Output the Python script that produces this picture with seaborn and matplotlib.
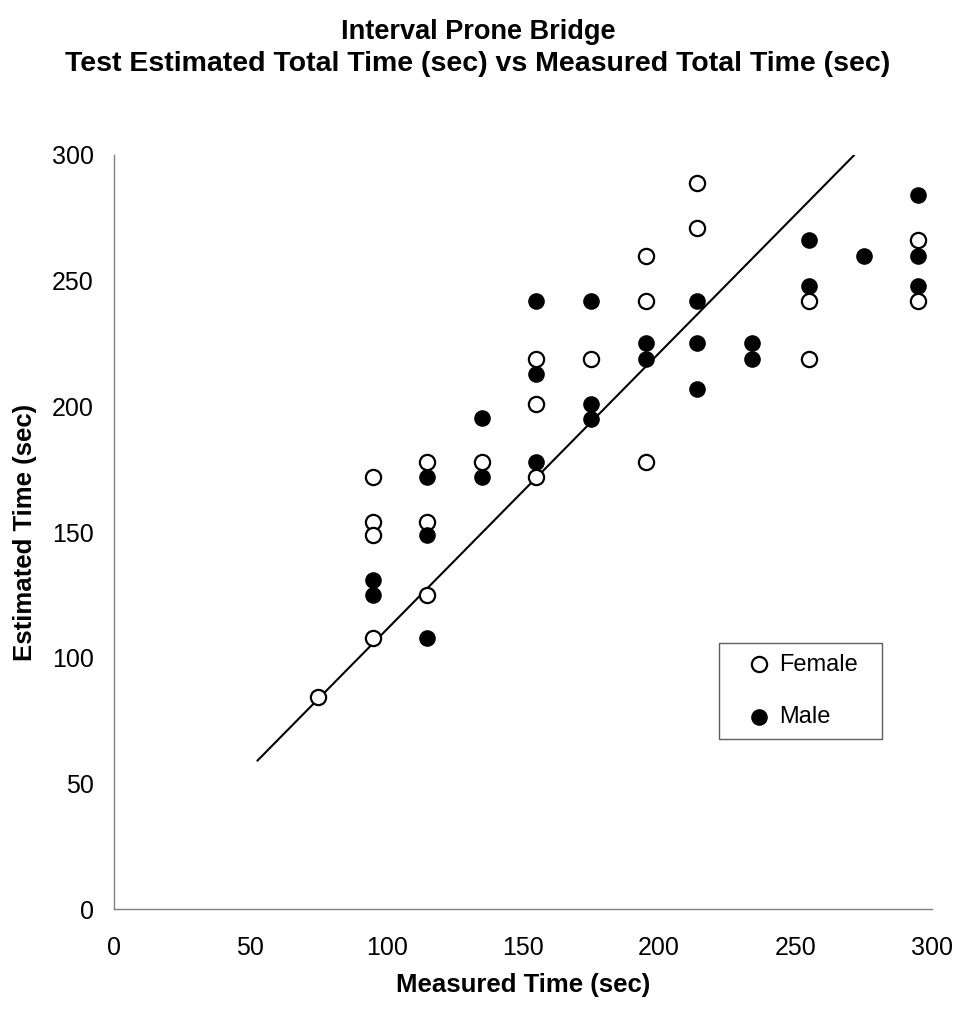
import matplotlib
matplotlib.use("Agg")
import matplotlib.pyplot as plt
import seaborn as sns
import pandas as pd

# ---- data ----
female_x = [75, 95, 95, 95, 95, 115, 115, 115, 135, 155, 155, 155, 175,
            195, 195, 195, 214, 214, 255, 255, 295, 295]
female_y = [84.5, 172, 154, 149, 108, 178, 154, 125, 178, 219, 201, 172, 219,
            260, 242, 178, 289, 271, 242, 219, 266, 242]

male_x = [95, 95, 115, 115, 115, 135, 135, 155, 155, 155, 175, 175, 175,
          195, 195, 214, 214, 214, 234, 234, 255, 255, 275, 295, 295, 295]
male_y = [131, 125, 172, 149, 108, 195.5, 172, 242, 213, 178, 242, 201, 195,
          225, 219, 242, 225, 207, 225, 219, 266, 248, 260, 284, 260, 248]

line_x = [52.6, 271.6]
line_y = [59.0, 300.0]

ticks = [0, 50, 100, 150, 200, 250, 300]
title_lines = ["Interval Prone Bridge",
               "Test Estimated Total Time (sec) vs Measured Total Time (sec)"]
xlabel = "Measured Time (sec)"
ylabel = "Estimated Time (sec)"
series_names = ["Female", "Male"]

female = pd.DataFrame({"x": female_x, "y": female_y})
male = pd.DataFrame({"x": male_x, "y": male_y})

sns.set_style("white")
plt.rcParams["font.family"] = ["Liberation Sans", "DejaVu Sans"]
plt.rcParams["text.color"] = "black"
plt.rcParams["axes.labelcolor"] = "black"

fig = plt.figure(figsize=(9.56, 10.13), dpi=100)
ax = fig.add_axes([114 / 956, 1 - 909 / 1013, 817.7 / 956, 754 / 1013])

ax.plot(line_x, line_y, color="black", lw=1.5, zorder=2)

sns.scatterplot(data=female, x="x", y="y", ax=ax, color="white",
                edgecolor="black", linewidth=1.6, s=120, marker="o",
                label=series_names[0], zorder=3)
sns.scatterplot(data=male, x="x", y="y", ax=ax, color="black",
                edgecolor="black", linewidth=1.0, s=120, marker="o",
                label=series_names[1], zorder=4)

ax.set_xlim(0, 300)
ax.set_ylim(0, 300)
ax.set_xticks(ticks)
ax.set_yticks(ticks)
ax.tick_params(axis="both", which="major", direction="out", length=5.5,
               width=1.0, color="#808080", labelsize=18, labelcolor="black")
ax.tick_params(axis="y", pad=9)
ax.tick_params(axis="x", pad=14)
for side in ["top", "right"]:
    ax.spines[side].set_visible(False)
for side in ["left", "bottom"]:
    ax.spines[side].set_color("#808080")
    ax.spines[side].set_linewidth(1.0)

ax.set_xlabel(xlabel, fontsize=18.5, fontweight="bold", color="black")
ax.set_ylabel(ylabel, fontsize=18.5, fontweight="bold", color="black")
ax.xaxis.set_label_coords(0.5, (909 - 985) / 754)
ax.xaxis.label.set_va("center")
ax.yaxis.set_label_coords((25 - 114) / 817.7, 0.5)
ax.yaxis.label.set_va("center")

fig.text(0.5, 1 - 32 / 1013, title_lines[0], ha="center", va="center",
         fontsize=19.5, fontweight="bold", color="black")
fig.text(0.5, 1 - 64 / 1013, title_lines[1], ha="center", va="center",
         fontsize=20.5, fontweight="bold", color="black")

bx0 = (719 - 114) / 817.7
bw = 163 / 817.7
btop = (909 - 643) / 754
bh = 101 / 754
leg = ax.legend(loc="upper left", bbox_to_anchor=(bx0, btop - bh, bw, bh),
                mode="expand", frameon=True, fancybox=False,
                edgecolor="#333333", fontsize=17, labelcolor="black",
                handletextpad=-0.4, labelspacing=1.3, borderpad=0.45,
                handlelength=2.5, borderaxespad=0, markerscale=1.0)
leg.get_frame().set_linewidth(1.0)

fig.savefig("out.png", dpi=100)
